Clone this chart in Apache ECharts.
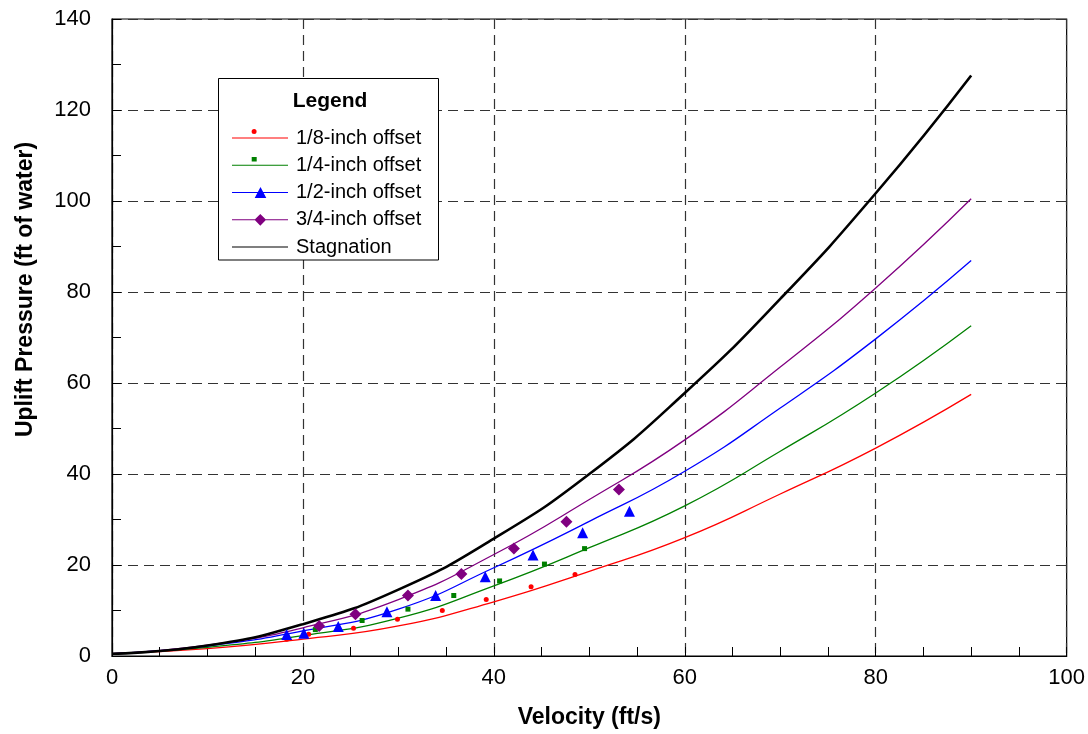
<!DOCTYPE html>
<html>
<head>
<meta charset="utf-8">
<script src="https://cdn.jsdelivr.net/npm/echarts@6/dist/echarts.min.js"></script>
<style>
html,body{margin:0;padding:0;background:#fff;}
#chart{width:1088px;height:734px;}
</style>
</head>
<body>
<div id="chart"></div>
<script>
// Fitted curves (velocity ft/s -> uplift pressure ft of water)
var curveX = [0, 10, 20, 30, 40, 50, 60, 70, 80, 90];
var curveEighth   = [0.5, 1.6, 3.7, 6.6, 11.9, 18.6, 26.0, 35.6, 45.7, 57.5];
var curveQuarter  = [0.5, 1.9, 4.5, 8.3, 15.4, 23.8, 33.0, 45.0, 57.8, 72.6];
var curveHalf     = [0.5, 2.2, 5.5, 10.3, 19.4, 29.6, 40.6, 54.5, 69.7, 86.9];
var curveThreeQ   = [0.5, 2.4, 6.2, 12.4, 22.3, 34.4, 47.5, 63.5, 80.9, 100.5];
var curveStag     = [0.5, 2.3, 7.0, 14.6, 25.8, 40.0, 57.8, 78.5, 101.7, 127.6];

// Measured points
var ptsEighth  = [[18.3,3.7],[20.6,4.8],[25.3,6.1],[29.9,8.1],[34.6,10.0],[39.2,12.4],[43.9,15.2],[48.5,17.9]];
var ptsQuarter = [[18.3,4.3],[21.3,5.8],[26.2,7.8],[31.0,10.3],[35.8,13.3],[40.6,16.5],[45.3,20.2],[49.5,23.6]];
var ptsHalf    = [[18.3,4.7],[20.1,5.0],[23.7,6.5],[28.8,9.7],[33.9,13.3],[39.1,17.4],[44.1,22.2],[49.3,27.1],[54.2,31.8]];
var ptsThreeQ  = [[21.7,6.6],[25.5,9.2],[31.0,13.3],[36.6,18.0],[42.1,23.6],[47.6,29.5],[53.1,36.6]];

var names = ['1/8-inch offset', '1/4-inch offset', '1/2-inch offset', '3/4-inch offset', 'Stagnation'];
var colors = ['#ff0000', '#008000', '#0000ff', '#800080', '#000000'];

function pair(ys) { return curveX.map(function (x, i) { return [x, ys[i]]; }); }

var FONT = 'Liberation Sans, Arial, sans-serif';
var chart = echarts.init(document.getElementById('chart'));

// legend icons: line with marker, in a 56x18 box (corner specks fix the box)
var BOX = 'M0,0h0.01v0.01h-0.01Z M55.99,17.99h0.01v0.01h-0.01Z ';
var LINE = 'M0,8.5H56V9.5H0Z ';
var icons = [
  'path://' + BOX + LINE + 'M19.6,2.6a2.5,2.5 0 1,0 5,0a2.5,2.5 0 1,0 -5,0Z',
  'path://' + BOX + LINE + 'M19.7,0.7H24.7V5.2H19.7Z',
  'path://' + BOX + LINE + 'M28.5,3.4L34.3,14.6H22.7Z',
  'path://' + BOX + LINE + 'M28.3,3.3L34.1,9.1L28.3,14.9L22.5,9.1Z',
  'path://' + BOX + LINE
];

function lineSeries(name, ys, color, width) {
  return {
    name: name, type: 'line', data: pair(ys), smooth: true,
    showSymbol: false, symbol: 'none',
    lineStyle: { color: color, width: width },
    itemStyle: { color: color },
    z: 3
  };
}
function scatterSeries(name, pts, color, symbol, size) {
  return {
    name: name, type: 'scatter', data: pts, symbol: symbol, symbolSize: size,
    itemStyle: { color: color, opacity: 1 }, z: 4
  };
}

var option = {
  backgroundColor: '#ffffff',
  animation: false,
  grid: {
    left: 112, right: 19, top: 19, bottom: 77,
    show: true, borderColor: '#000', borderWidth: 1.2, backgroundColor: 'transparent'
  },
  xAxis: {
    type: 'value', min: 0, max: 100, interval: 20,
    name: 'Velocity (ft/s)', nameLocation: 'middle', nameGap: 50,
    nameTextStyle: { fontFamily: FONT, fontSize: 23, fontWeight: 'bold', color: '#000' },
    axisLine: { lineStyle: { color: '#000', width: 1.2 } },
    axisTick: { inside: true, length: 9, lineStyle: { color: '#000' } },
    minorTick: { show: true, splitNumber: 4, length: 9, lineStyle: { color: '#000' } },
    axisLabel: { fontFamily: FONT, fontSize: 22, color: '#000', margin: 11 },
    splitLine: { show: true, lineStyle: { color: '#333', type: [10, 6], width: 1.2 } }
  },
  yAxis: {
    type: 'value', min: 0, max: 140, interval: 20,
    name: 'Uplift Pressure (ft of water)', nameLocation: 'middle', nameGap: 75,
    nameTextStyle: { fontFamily: FONT, fontSize: 23, fontWeight: 'bold', color: '#000',
      padding: [0, 0, 0, 96] },
    axisLine: { lineStyle: { color: '#000', width: 1.2 } },
    axisTick: { inside: true, length: 9, lineStyle: { color: '#000' } },
    minorTick: { show: true, splitNumber: 2, length: 9, lineStyle: { color: '#000' } },
    axisLabel: { fontFamily: FONT, fontSize: 22, color: '#000', margin: 21 },
    splitLine: { show: true, lineStyle: { color: '#333', type: [10, 6], width: 1.2 } }
  },
  graphic: [
    {
      type: 'rect', z: 10,
      shape: { x: 218.5, y: 78.5, width: 220, height: 181.5 },
      style: { fill: '#fff', stroke: '#000', lineWidth: 1 }
    },
    {
      type: 'text', z: 30, x: 330, y: 101,
      style: { text: 'Legend', font: 'bold 21px ' + FONT, fill: '#000',
        textAlign: 'center', textVerticalAlign: 'middle' }
    }
  ],
  legend: {
    orient: 'vertical', left: 218, top: 78, z: 20,
    data: names.map(function (n, i) {
      return { name: n, icon: icons[i], itemStyle: { color: colors[i], borderWidth: 0 } };
    }),
    padding: [50, 10, 3, 14],
    itemGap: 7.25, itemWidth: 56, itemHeight: 18,
    symbolKeepAspect: false,
    textStyle: { fontFamily: FONT, fontSize: 20, color: '#000', padding: [0, 0, 0, 3] },
    selectedMode: false
  },
  series: [
    lineSeries(names[0], curveEighth, colors[0], 1.3),
    lineSeries(names[1], curveQuarter, colors[1], 1.3),
    lineSeries(names[2], curveHalf, colors[2], 1.3),
    lineSeries(names[3], curveThreeQ, colors[3], 1.3),
    lineSeries(names[4], curveStag, colors[4], 2.6),
    scatterSeries(names[0], ptsEighth, colors[0], 'circle', 5),
    scatterSeries(names[1], ptsQuarter, colors[1], 'rect', 5),
    scatterSeries(names[2], ptsHalf, colors[2], 'triangle', 11),
    scatterSeries(names[3], ptsThreeQ, colors[3], 'diamond', 12)
  ]
};
chart.setOption(option);
</script>
</body>
</html>
